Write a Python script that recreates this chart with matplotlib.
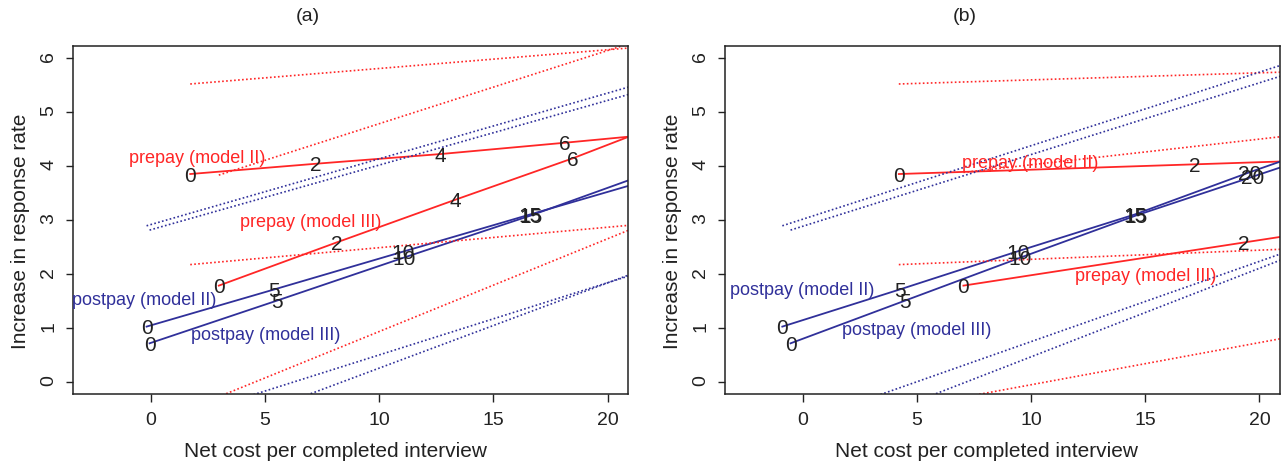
import matplotlib
matplotlib.use('Agg')
import matplotlib.pyplot as plt

plt.rcParams['font.family'] = ['Liberation Sans', 'DejaVu Sans']

RED = '#ff2626'
BLUE = '#30309a'
XLIM = (-3.4, 20.9)
YLIM = (-0.23, 6.23)

# point labels (prepay amount / postpay amount)
pre_labels = ['0', '2', '4', '6', '8']
post_labels = ['0', '5', '10', '15', '20', '25']

# ---- panel (a) : solid curves (net cost, increase in response rate)
a_pre2_x = [1.73, 7.21, 12.67, 18.12, 23.6]
a_pre2_y = [3.85, 4.04, 4.22, 4.43, 4.65]
a_pre3_x = [2.98, 8.13, 13.31, 18.46, 23.6]
a_pre3_y = [1.78, 2.58, 3.37, 4.14, 4.98]
a_post2_x = [-0.18, 5.41, 11.04, 16.60, 22.2]
a_post2_y = [1.02, 1.71, 2.41, 3.10, 3.79]
a_post3_x = [-0.05, 5.51, 11.08, 16.63, 22.2]
a_post3_y = [0.71, 1.50, 2.30, 3.08, 3.93]

# ---- panel (a) : dotted bounds, [x], [y]
a_pre2_hi = [[1.73, 23.6], [5.52, 6.28]]
a_pre2_lo = [[1.73, 23.6], [2.17, 3.00]]
a_pre3_hi = [[2.98, 23.6], [3.83, 6.63]]
a_pre3_lo = [[2.98, 23.6], [-0.28, 3.27]]
a_post2_hi = [[-0.18, 22.2], [2.89, 5.62]]
a_post3_hi = [[-0.05, 22.2], [2.81, 5.48]]
a_post2_lo = [[-0.18, 22.2], [-0.87, 2.13]]
a_post3_lo = [[-0.05, 22.2], [-1.34, 2.18]]

# ---- panel (b) : solid curves
b_pre2_x = [4.21, 17.18, 30.15]
b_pre2_y = [3.85, 4.03, 4.21]
b_pre3_x = [7.04, 19.32, 31.6]
b_pre3_y = [1.78, 2.58, 3.38]
b_post2_x = [-0.89, 4.26, 9.44, 14.54, 19.55, 24.7]
b_post2_y = [1.02, 1.71, 2.42, 3.10, 3.88, 4.64]
b_post3_x = [-0.53, 4.47, 9.54, 14.59, 19.70, 24.8]
b_post3_y = [0.71, 1.50, 2.30, 3.08, 3.80, 4.52]

# ---- panel (b) : dotted bounds
b_pre2_hi = [[4.21, 30.15], [5.52, 5.86]]
b_pre2_lo = [[4.21, 30.15], [2.17, 2.61]]
b_pre3_hi = [[7.04, 31.6], [3.88, 5.05]]
b_pre3_lo = [[7.04, 31.6], [-0.29, 1.63]]
b_post2_hi = [[-0.89, 24.7], [2.89, 6.38]]
b_post3_hi = [[-0.53, 24.8], [2.81, 6.18]]
b_post2_lo = [[-0.89, 24.7], [-0.88, 2.93]]
b_post3_lo = [[-0.53, 24.8], [-1.27, 2.89]]

series_names = ['prepay (model II)', 'prepay (model III)',
                'postpay (model II)', 'postpay (model III)']
a_name_pos = [(2.02, 4.17), (7.01, 2.98), (-0.29, 1.54), (5.02, 0.89)]
b_name_pos = [(9.98, 4.08), (15.0, 1.98), (0.0, 1.73), (4.99, 0.98)]
name_colors = [RED, RED, BLUE, BLUE]


def draw_panel(ax, solids, bounds, name_pos):
    for x, y, labs, col in solids:
        ax.plot(x, y, color=col, lw=1.3)
        for xi, yi, s in zip(x, y, labs):
            # points past the right edge are only there to carry the line on
            if XLIM[0] <= xi <= XLIM[1]:
                ax.text(xi, yi, s, ha='center', va='center_baseline', fontsize=15,
                        color='#222222')
    for (x, y), col in bounds:
        ax.plot(x, y, color=col, lw=1.2, ls=(0, (1, 1.4)))
    for s, (tx, ty), col in zip(series_names, name_pos, name_colors):
        ax.text(tx, ty, s, ha='center', va='center_baseline', fontsize=13, color=col)
    ax.set_xlim(*XLIM)
    ax.set_ylim(*YLIM)
    ax.set_xticks([0, 5, 10, 15, 20])
    ax.set_yticks(range(7))
    ax.tick_params(direction='out', length=5.4, width=1.0, labelsize=14,
                   color='#222222', labelcolor='#222222')
    ax.tick_params(axis='x', pad=7.8)
    ax.tick_params(axis='y', pad=5.8, labelrotation=90)
    for sp in ax.spines.values():
        sp.set_linewidth(1.1)
        sp.set_color('#222222')


fig = plt.figure(figsize=(12.82, 4.66), dpi=100)
W, H = 1282.0, 466.0
ax1 = fig.add_axes([73 / W, 1 - 394 / H, (628.3 - 73) / W, (394 - 45.7) / H])
ax2 = fig.add_axes([725 / W, 1 - 394 / H, (1280 - 725) / W, (394 - 45.7) / H])

draw_panel(ax1,
           [(a_pre2_x, a_pre2_y, pre_labels, RED),
            (a_pre3_x, a_pre3_y, pre_labels, RED),
            (a_post2_x, a_post2_y, post_labels, BLUE),
            (a_post3_x, a_post3_y, post_labels, BLUE)],
           [(a_pre2_hi, RED), (a_pre2_lo, RED), (a_pre3_hi, RED), (a_pre3_lo, RED),
            (a_post2_hi, BLUE), (a_post3_hi, BLUE), (a_post2_lo, BLUE), (a_post3_lo, BLUE)],
           a_name_pos)

draw_panel(ax2,
           [(b_pre2_x, b_pre2_y, pre_labels, RED),
            (b_pre3_x, b_pre3_y, pre_labels, RED),
            (b_post2_x, b_post2_y, post_labels, BLUE),
            (b_post3_x, b_post3_y, post_labels, BLUE)],
           [(b_pre2_hi, RED), (b_pre2_lo, RED), (b_pre3_hi, RED), (b_pre3_lo, RED),
            (b_post2_hi, BLUE), (b_post3_hi, BLUE), (b_post2_lo, BLUE), (b_post3_lo, BLUE)],
           b_name_pos)

# titles and axis labels, placed like the R figure
for cx, title in [(308, '(a)'), (965, '(b)')]:
    fig.text(cx / W, 1 - 21 / H, title, ha='center', va='baseline', fontsize=14,
             color='#222222')
for cx in [335, 986.7]:
    fig.text(cx / W, 1 - 457.3 / H, 'Net cost per completed interview', ha='center',
             va='baseline', fontsize=15, color='#222222')
for bx in [26, 678]:
    fig.text(bx / W, 1 - 231 / H, 'Increase in response rate', rotation=90,
             rotation_mode='anchor', ha='center', va='baseline', fontsize=15,
             color='#222222')

fig.savefig('out.png', dpi=100)
